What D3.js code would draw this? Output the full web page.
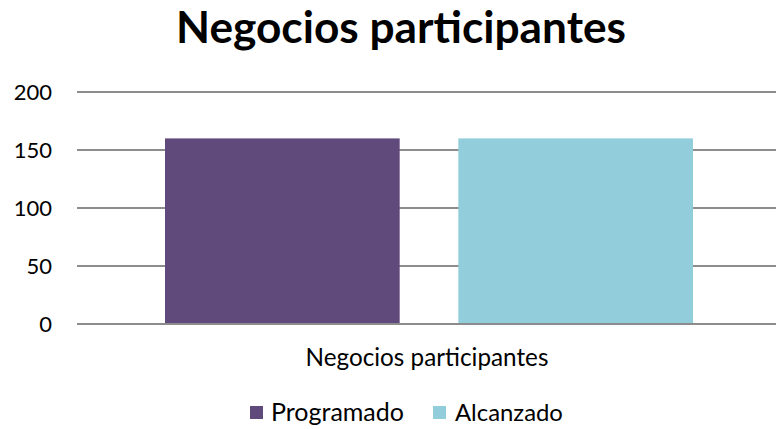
<!DOCTYPE html>
<html>
<head>
<meta charset="utf-8">
<script src="https://cdn.jsdelivr.net/npm/d3@7"></script>
<style>
  html, body { margin: 0; padding: 0; background: #fff; }
  svg { display: block; font-family: Lato, "Open Sans", sans-serif; }
</style>
</head>
<body>
<svg id="chart" width="776" height="429"></svg>
<script>
// Chart content
const chartTitle = "Negocios participantes";
const categories = ["Negocios participantes"];
const seriesNames = ["Programado", "Alcanzado"];
const seriesColors = ["#604A7B", "#92CDDC"];
const programado = [160];
const alcanzado = [160];
const yTicks = [0, 50, 100, 150, 200];

const seriesValues = [programado, alcanzado];

const svg = d3.select("#chart");
const margin = { left: 77, right: -5, top: 92, bottom: 105 };
const W = 776, H = 429;

const x = d3.scaleBand()
  .domain(categories)
  .range([margin.left, W - margin.right])
  .paddingInner(0).paddingOuter(0);

const xSeries = d3.scaleBand()
  .domain(seriesNames)
  .range([0, x.bandwidth()])
  .paddingInner(0.2)
  .paddingOuter(0.3);

const y = d3.scaleLinear()
  .domain([0, 200])
  .range([H - margin.bottom, margin.top]);

// Fit a text element to a target width
function fit(sel, width) {
  const len = sel.node().getComputedTextLength();
  const fs = parseFloat(sel.attr("font-size"));
  sel.attr("font-size", fs * width / len);
}

// Gridlines
const yAxis = d3.axisLeft(y).tickValues(yTicks).tickSize(0).tickPadding(0);
svg.append("g")
  .selectAll("line")
  .data(yTicks)
  .join("line")
  .attr("x1", margin.left)
  .attr("x2", W)
  .attr("y1", d => y(d))
  .attr("y2", d => y(d))
  .attr("stroke", "#8c8c8c")
  .attr("stroke-width", 2);

// Y tick labels
const yg = svg.append("g")
  .attr("transform", `translate(52,0)`)
  .call(yAxis);
yg.select(".domain").remove();
yg.selectAll("text")
  .attr("font-size", 22)
  .attr("font-family", "Lato, 'Open Sans', sans-serif")
  .attr("fill", "#000")
  .attr("dy", "0.35em");

// Bars
const groups = svg.append("g")
  .selectAll("g")
  .data(categories)
  .join("g")
  .attr("transform", d => `translate(${x(d)},0)`);

groups.selectAll("rect")
  .data((d, i) => seriesNames.map((s, k) => ({ s, v: seriesValues[k][i], c: seriesColors[k] })))
  .join("rect")
  .attr("x", d => xSeries(d.s))
  .attr("width", xSeries.bandwidth())
  .attr("y", d => y(d.v))
  .attr("height", d => y(0) - y(d.v))
  .attr("fill", d => d.c);

// Redraw zero line on top of bars
svg.append("line")
  .attr("x1", margin.left).attr("x2", W)
  .attr("y1", y(0)).attr("y2", y(0))
  .attr("stroke", "#8c8c8c").attr("stroke-width", 2);

// Category label
const catLabel = svg.append("g")
  .selectAll("text")
  .data(categories)
  .join("text")
  .attr("x", d => x(d) + xSeries("Programado") + (xSeries("Alcanzado") + xSeries.bandwidth() - xSeries("Programado")) / 2 - 2)
  .attr("y", 366)
  .attr("text-anchor", "middle")
  .attr("font-size", 20)
  .attr("fill", "#000")
  .text(d => d);
catLabel.each(function () { fit(d3.select(this), 243); });

// Title
const title = svg.append("text")
  .attr("x", 401)
  .attr("y", 43)
  .attr("text-anchor", "middle")
  .attr("font-weight", "bold")
  .attr("font-size", 40)
  .attr("fill", "#000")
  .text(chartTitle);
fit(title, 450);

// Legend
const legendPos = [{ sx: 250, tx: 271, tw: 133 }, { sx: 433, tx: 455, tw: 108 }];
const legend = svg.append("g")
  .selectAll("g")
  .data(seriesNames)
  .join("g");
legend.append("rect")
  .attr("x", (d, i) => legendPos[i].sx)
  .attr("y", 406)
  .attr("width", 13)
  .attr("height", 13)
  .attr("fill", (d, i) => seriesColors[i]);
legend.append("text")
  .attr("x", (d, i) => legendPos[i].tx)
  .attr("y", 421)
  .attr("font-size", 20)
  .attr("fill", "#000")
  .text(d => d)
  .each(function (d, i) { fit(d3.select(this), legendPos[i].tw); });
</script>
</body>
</html>
